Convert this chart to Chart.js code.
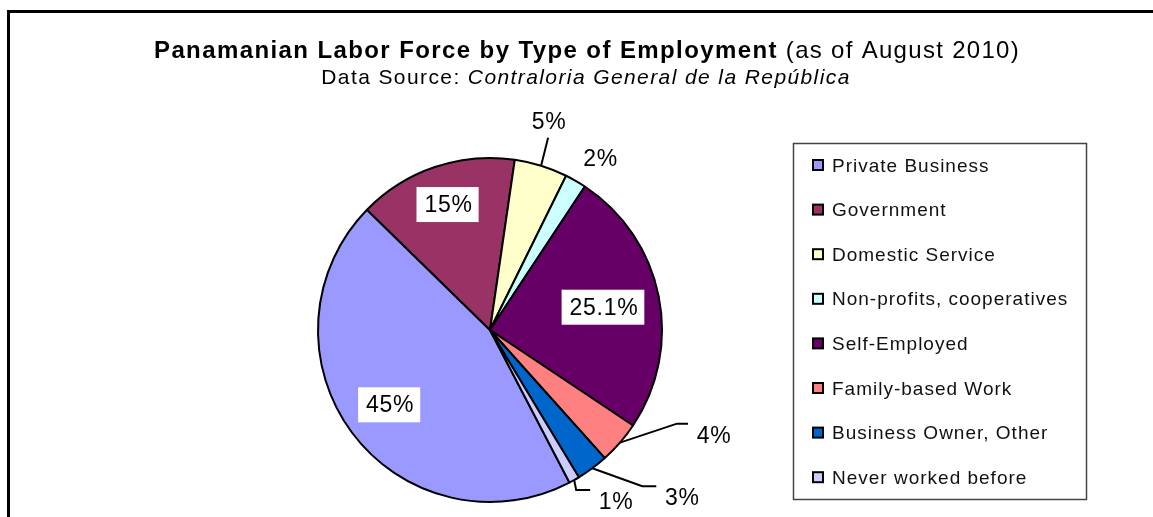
<!DOCTYPE html>
<html>
<head>
<meta charset="utf-8">
<script src="https://cdn.jsdelivr.net/npm/chart.js@4.4.1/dist/chart.umd.min.js"></script>
<style>
  html, body { margin: 0; padding: 0; background: #fff; }
  canvas { display: block; }
</style>
</head>
<body>
<canvas id="laborChart" width="1153" height="517"></canvas>
<script>
// Data
const categories = ['Private Business', 'Government', 'Domestic Service', 'Non-profits, cooperatives',
    'Self-Employed', 'Family-based Work', 'Business Owner, Other', 'Never worked before'];
const shares = [45, 15, 5, 2, 25.1, 4, 3, 1];
const sliceColors = ['#9999FF', '#993366', '#FFFFCC', '#CCFFFF', '#660066', '#FF8080', '#0066CC', '#CCCCFF'];

const FONT = '"Liberation Sans", Arial, sans-serif';

// how each slice label is placed (inside box, or outside with a leader line)
const labelPlacement = [
    { inside: true, r: 0.73 },
    { inside: true, r: 0.77 },
    { leader: [[7, -28]], text: [8, -43] },
    { text: [25, -21] },
    { inside: true, r: 0.67 },
    { leader: [[57, -19], [68, -19]], text: [94, -6] },
    { leader: [[50, 18], [64, 18]], text: [90, 30] },
    { leader: [[2, 10], [16, 10]], text: [42, 23] }
];

function runsWidth(ctx, runs) {
    let w = 0;
    runs.forEach(r => { ctx.font = r.font; ctx.letterSpacing = r.ls; w += ctx.measureText(r.text).width; });
    return w;
}
function drawRuns(ctx, runs, cx, y) {
    let x = cx - runsWidth(ctx, runs) / 2;
    ctx.textAlign = 'left';
    ctx.textBaseline = 'alphabetic';
    runs.forEach(r => {
        ctx.font = r.font; ctx.letterSpacing = r.ls;
        ctx.fillText(r.text, x, y);
        x += ctx.measureText(r.text).width;
    });
}

const decorations = {
    id: 'decorations',
    afterDraw(chart) {
        const ctx = chart.ctx;
        ctx.save();
        ctx.fillStyle = '#000';

        // outer frame (top and left edges visible)
        ctx.fillRect(7, 10, 1146, 3);
        ctx.fillRect(7, 10, 3, 507);

        // title + subtitle
        drawRuns(ctx, [
            { text: 'Panamanian Labor Force by Type of Employment', font: 'bold 24px ' + FONT, ls: '1.4px' },
            { text: ' (as of August 2010)', font: '24px ' + FONT, ls: '1.3px' }
        ], 587, 58);
        drawRuns(ctx, [
            { text: 'Data Source: ', font: '21px ' + FONT, ls: '1.4px' },
            { text: 'Contraloria General de la República', font: 'italic 21px ' + FONT, ls: '1.4px' }
        ], 586, 84);

        // legend
        ctx.strokeStyle = '#444';
        ctx.lineWidth = 1.5;
        ctx.strokeRect(793.5, 143.5, 293, 356);
        const labels = chart.data.labels;
        const bg = chart.data.datasets[0].backgroundColor;
        labels.forEach((lab, i) => {
            const base = 171.5 + i * 44.6;
            ctx.fillStyle = bg[i];
            ctx.fillRect(813, base - 11.5, 10, 10);
            ctx.strokeStyle = '#000';
            ctx.lineWidth = 2;
            ctx.strokeRect(813, base - 11.5, 10, 10);
            ctx.fillStyle = '#111';
            ctx.font = '19px ' + FONT;
            ctx.letterSpacing = '1px';
            ctx.textAlign = 'left';
            ctx.textBaseline = 'alphabetic';
            ctx.fillText(lab, 832, base);
        });

        // slice labels
        const meta = chart.getDatasetMeta(0);
        const values = chart.data.datasets[0].data;
        ctx.font = '23px ' + FONT;
        ctx.letterSpacing = '0.7px';
        ctx.textAlign = 'center';
        ctx.textBaseline = 'middle';
        meta.data.forEach((arc, i) => {
            const p = labelPlacement[i];
            const mid = (arc.startAngle + arc.endAngle) / 2;
            const txt = values[i] + '%';
            if (p.inside) {
                const tx = arc.x + Math.cos(mid) * arc.outerRadius * p.r;
                const ty = arc.y + Math.sin(mid) * arc.outerRadius * p.r;
                const w = ctx.measureText(txt).width + 14;
                ctx.fillStyle = '#fff';
                ctx.fillRect(tx - w / 2, ty - 17.5, w, 35);
                ctx.fillStyle = '#000';
                ctx.fillText(txt, tx + 1, ty + 1);
                return;
            }
            const sx = arc.x + Math.cos(mid) * arc.outerRadius;
            const sy = arc.y + Math.sin(mid) * arc.outerRadius;
            if (p.leader) {
                ctx.strokeStyle = '#000';
                ctx.lineWidth = 2;
                ctx.beginPath();
                ctx.moveTo(sx, sy);
                p.leader.forEach(pt => ctx.lineTo(sx + pt[0], sy + pt[1]));
                ctx.stroke();
            }
            ctx.fillStyle = '#000';
            ctx.fillText(txt, sx + p.text[0], sy + p.text[1]);
        });
        ctx.restore();
    }
};

new Chart(document.getElementById('laborChart'), {
    type: 'pie',
    data: {
        labels: categories,
        datasets: [{
            data: shares,
            backgroundColor: sliceColors,
            borderColor: '#000',
            borderWidth: 2,
            hoverBorderWidth: 2,
            hoverOffset: 0
        }]
    },
    options: {
        responsive: false,
        devicePixelRatio: 1,
        animation: false,
        events: [],
        rotation: 152.5,
        layout: { padding: { left: 317, right: 490, top: 157, bottom: 14 } },
        plugins: {
            legend: { display: false },
            title: { display: false },
            tooltip: { enabled: false }
        }
    },
    plugins: [decorations]
});
</script>
</body>
</html>
